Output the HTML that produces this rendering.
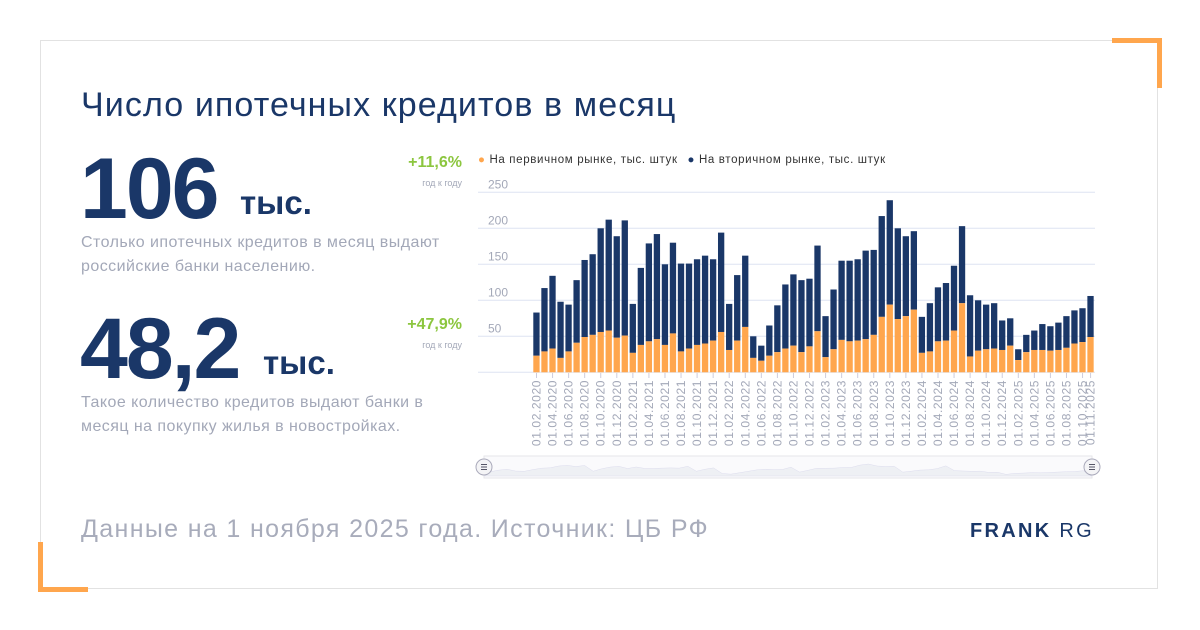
<!DOCTYPE html>
<html><head><meta charset="utf-8"><style>
body{margin:0;width:1200px;height:630px;background:#fff;font-family:"Liberation Sans",sans-serif;position:relative;overflow:hidden}
.card{position:absolute;left:40px;top:40px;width:1118px;height:549px;border:1px solid #e2e2e2;box-sizing:border-box}
.abs{position:absolute;white-space:nowrap}
.navy{color:#1a3768}
.gray{color:#a3a8b8}
</style></head><body>
<div class="card"></div>
<div class="abs" style="left:1112px;top:38px;width:50px;height:5px;background:#ffa64d"></div>
<div class="abs" style="left:1157px;top:38px;width:5px;height:50px;background:#ffa64d"></div>
<div class="abs" style="left:38px;top:542px;width:5px;height:50px;background:#ffa64d"></div>
<div class="abs" style="left:38px;top:587px;width:50px;height:5px;background:#ffa64d"></div>

<div class="abs navy" style="left:81px;top:86px;font-size:34px;letter-spacing:1.1px">Число ипотечных кредитов в месяц</div>
<div class="abs navy" style="left:80px;top:140px;font-size:86px;font-weight:bold;letter-spacing:-2px">106</div>
<div class="abs navy" style="left:240px;top:184px;font-size:33px;font-weight:bold">тыс.</div>
<div class="abs gray" style="left:81px;top:231px;font-size:16px;line-height:24px;letter-spacing:0.45px">Столько ипотечных кредитов в месяц выдают<br>российские банки населению.</div>
<div class="abs" style="left:398px;top:154px;width:64px;text-align:right;font-size:16px;font-weight:bold;color:#8cc63f">+11,6%</div>
<div class="abs gray" style="left:398px;top:178px;width:64px;text-align:right;font-size:9px">год к году</div>

<div class="abs navy" style="left:80px;top:300px;font-size:86px;font-weight:bold;letter-spacing:-2px">48,2</div>
<div class="abs navy" style="left:263px;top:344px;font-size:33px;font-weight:bold">тыс.</div>
<div class="abs gray" style="left:81px;top:391px;font-size:16px;line-height:24px;letter-spacing:0.45px">Такое количество кредитов выдают банки в<br>месяц на покупку жилья в новостройках.</div>
<div class="abs" style="left:398px;top:316px;width:64px;text-align:right;font-size:16px;font-weight:bold;color:#8cc63f">+47,9%</div>
<div class="abs gray" style="left:398px;top:340px;width:64px;text-align:right;font-size:9px">год к году</div>

<div class="abs gray" style="left:81px;top:515px;font-size:25px;letter-spacing:1.35px;color:#a8acbb">Данные на 1 ноября 2025 года. Источник: ЦБ РФ</div>
<div class="abs navy" style="left:970px;top:520px;font-size:20px;letter-spacing:2.3px"><b>FRANK</b> RG</div>

<svg id="ch" class="abs" style="left:0;top:0" width="1200" height="630" xmlns="http://www.w3.org/2000/svg"></svg>
<script>
var tot=[83,117,134,98,94,128,156,164,200,212,189,211,95,145,179,192,150,180,151,151,157,162,157,194,95,135,162,50,37,65,93,122,136,128,130,176,78,115,155,155,157,169,170,217,239,200,189,196,77,96,118,124,148,203,107,100,94,96,72,75,32,52,58,67,64,69,78,86,89,106];
var pri=[23,29,33,20,29,41,49,52,56,58,48,51,27,38,43,46,38,54,29,33,38,40,44,56,31,44,63,20,16,23,28,33,37,28,36,57,21,32,45,43,44,46,52,77,94,74,78,87,27,29,43,44,58,96,22,30,32,33,31,37,17,28,31,31,30,31,34,40,42,49];
var s='';var y0=372.3,k=0.72;
s+='<text x="478" y="163" font-size="11.5" letter-spacing="0.65" fill="#333"><tspan fill="#ffa64d">●</tspan> На первичном рынке, тыс. штук  <tspan fill="#1a3768" dx="6">●</tspan> На вторичном рынке, тыс. штук</text>';
for(var v=0;v<=250;v+=50){var y=y0-v*k;s+='<line x1="478" x2="1095" y1="'+y+'" y2="'+y+'" stroke="#dde3f2" stroke-width="1"/>';if(v>0)s+='<text x="488" y="'+(y-4)+'" font-size="12" fill="#a3a8b8">'+v+'</text>';}
for(var i=0;i<70;i++){var x=533.3+i*8.03;var ht=tot[i]*k,hp=pri[i]*k;
s+='<rect x="'+x+'" y="'+(y0-ht)+'" width="6.3" height="'+(ht-hp)+'" fill="#1a3768"/>';
s+='<rect x="'+x+'" y="'+(y0-hp)+'" width="6.3" height="'+hp+'" fill="#ffa64d"/>';
var m=(i+1)%12+1,yr=2020+Math.floor((i+1)/12);
if(i%2==0||i==69){var cx=x+3.2;var lbl='01.'+(m<10?'0':'')+m+'.'+yr;
s+='<line x1="'+cx+'" x2="'+cx+'" y1="373" y2="378" stroke="#ccd" />';
s+='<text transform="translate('+(cx+4)+',380) rotate(-90)" text-anchor="end" font-size="12" letter-spacing="0.6" fill="#a3a8b8">'+lbl+'</text>';}}
s+='<rect x="484" y="456" width="608" height="22" fill="#fafafc" stroke="#e6e6ea"/>';
var p='M484,472';for(var i=0;i<70;i++){p+=' L'+(490+i*8.6)+','+(476-tot[i]*0.05);}p+=' L1092,476 L484,476Z';
s+='<path d="'+p+'" fill="#eef0f4" stroke="#dde" stroke-width="0.5"/>';
[484,1092].forEach(function(cx){s+='<circle cx="'+cx+'" cy="467" r="8" fill="#f4f4f6" stroke="#aab" stroke-width="1"/><path d="M'+(cx-3)+',464.5h6M'+(cx-3)+',467h6M'+(cx-3)+',469.5h6" stroke="#556"/>';});
document.getElementById('ch').innerHTML=s;
</script>
</body></html>
